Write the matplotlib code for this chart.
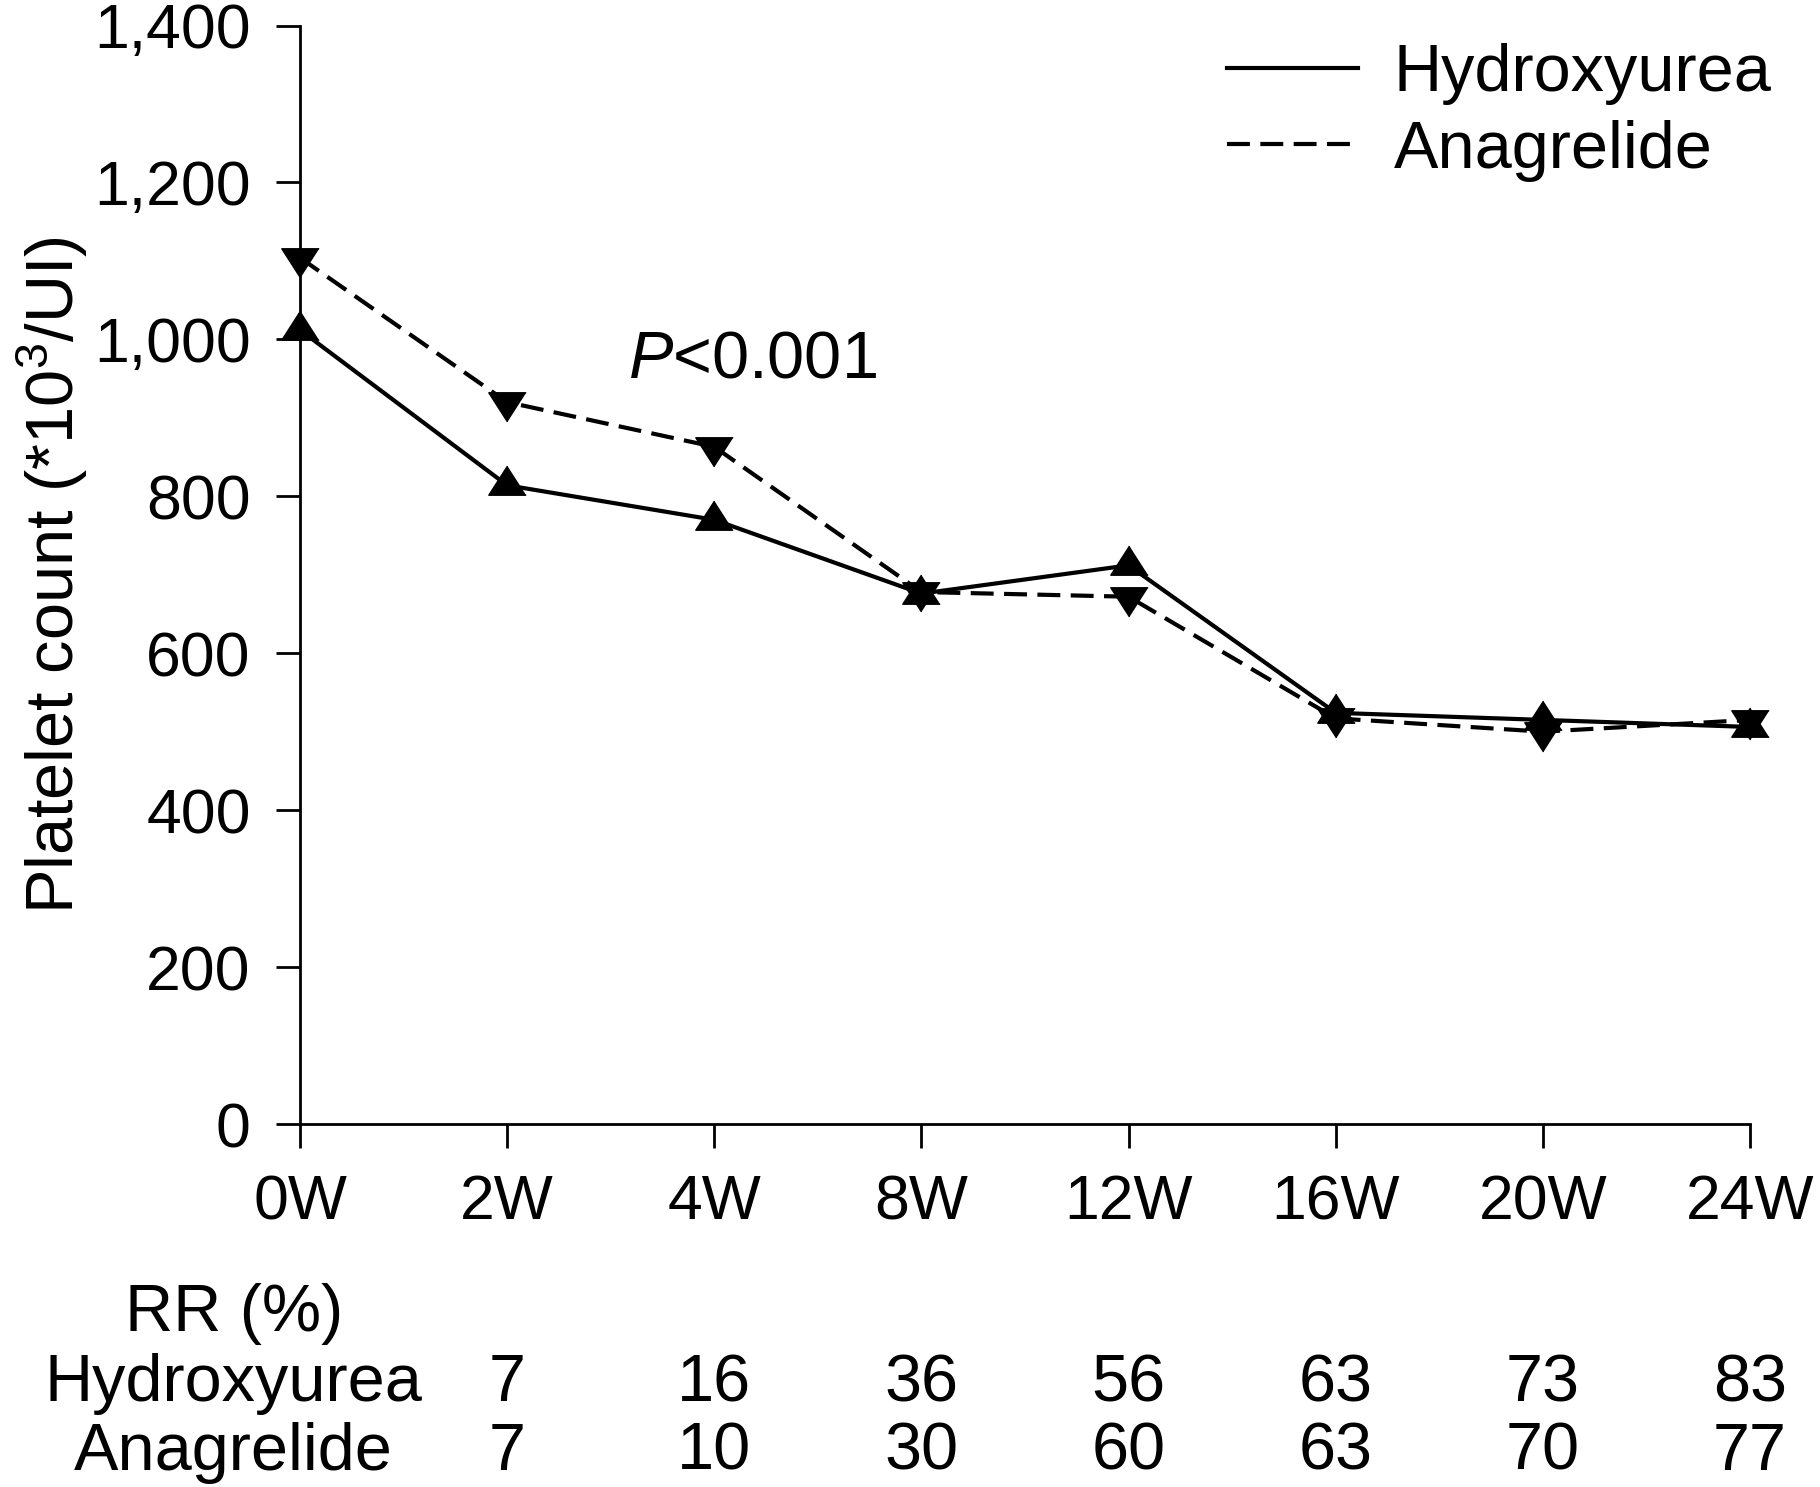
import matplotlib.pyplot as plt
from matplotlib.lines import Line2D
from matplotlib.transforms import blended_transform_factory

plt.rcParams['font.family'] = ['Liberation Sans', 'DejaVu Sans']
plt.rcParams['mathtext.fontset'] = 'custom'
plt.rcParams['mathtext.rm'] = 'Liberation Sans'
plt.rcParams['mathtext.it'] = 'Liberation Sans:italic'

# platelet counts
weeks = ['0W', '2W', '4W', '8W', '12W', '16W', '20W', '24W']
hydroxyurea = [1012, 814, 770, 676, 712, 524, 515, 506]
anagrelide = [1104, 920, 863, 678, 672, 517, 500, 515]
yticks = [0, 200, 400, 600, 800, 1000, 1200, 1400]

# response rate table under the axis
rr_hydroxyurea = [7, 16, 36, 56, 63, 73, 83]
rr_anagrelide = [7, 10, 30, 60, 63, 70, 77]

W, H = 1820, 1487
FS = 48       # labels, legend, table
FS_TICK = 45
LW = 3
DASH = (5.5, 2.5)

fig = plt.figure(figsize=(W / 100, H / 100), dpi=100)
ax = fig.add_axes([300 / W, 1 - 1124 / H, 1450 / W, (1124 - 25.5) / H])

# triangles centred on their centroid
up = [(0, 0.52), (-0.5, -0.26), (0.5, -0.26)]
down = [(0, -0.52), (-0.5, 0.26), (0.5, 0.26)]

x = list(range(len(weeks)))
ax.plot(x, anagrelide, color='black', lw=LW, dashes=DASH, marker=down,
        ms=28, mew=1, clip_on=False, zorder=3)
ax.plot(x, hydroxyurea, color='black', lw=LW, marker=up,
        ms=28, mew=1, clip_on=False, zorder=3)

ax.set_xlim(0, len(weeks) - 1)
ax.set_ylim(0, 1400)
ax.set_xticks(x)
ax.set_xticklabels(weeks)
ax.set_yticks(yticks)
ax.set_yticklabels([f'{v:,}' for v in yticks])

for s in ['top', 'right']:
    ax.spines[s].set_visible(False)
for s in ['left', 'bottom']:
    ax.spines[s].set_linewidth(2)
ax.tick_params(direction='out', length=17.5, width=2, pad=18, labelsize=FS_TICK)

fig.text(52 / W, 1 - 575 / H, r'Platelet count (*10$^{\mathrm{3}}$/UI)',
         rotation=90, ha='center', va='center', fontsize=FS)

ax.text(1.585, 952, r'$P$<0.001', ha='left', va='baseline', fontsize=FS)

handles = [Line2D([], [], color='black', lw=LW),
           Line2D([], [], color='black', lw=LW, dashes=DASH)]
ax.legend(handles, ['Hydroxyurea', 'Anagrelide'], loc='upper left',
          bbox_to_anchor=(1227 / W, 1 - 43 / H), bbox_transform=fig.transFigure,
          frameon=False, fontsize=FS, handlelength=1.96, handletextpad=0.54,
          borderpad=0, borderaxespad=0, labelspacing=0.22)

# RR (%) table
trans = blended_transform_factory(ax.transData, fig.transFigure)
ax.text(-0.32, 1 - 1331 / H, 'RR (%)', transform=trans, ha='center',
        va='baseline', fontsize=FS)
ax.text(-0.32, 1 - 1401 / H, 'Hydroxyurea', transform=trans, ha='center',
        va='baseline', fontsize=FS)
ax.text(-0.32, 1 - 1470 / H, 'Anagrelide', transform=trans, ha='center',
        va='baseline', fontsize=FS)
for i in range(len(rr_hydroxyurea)):
    ax.text(i + 1, 1 - 1401 / H, str(rr_hydroxyurea[i]), transform=trans,
            ha='center', va='baseline', fontsize=FS)
    ax.text(i + 1, 1 - 1470 / H, str(rr_anagrelide[i]), transform=trans,
            ha='center', va='baseline', fontsize=FS)

fig.savefig('out.png', dpi=100)
